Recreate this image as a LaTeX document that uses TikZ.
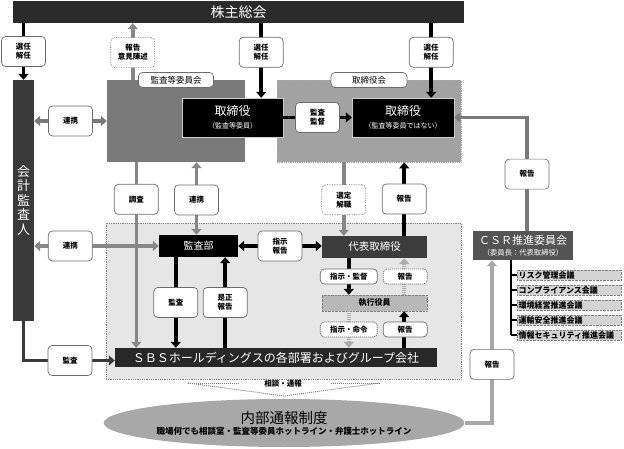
\documentclass[tikz,border=0pt]{standalone}
\usepackage{fontspec}
\setmainfont{Noto Sans CJK JP}
\usetikzlibrary{shapes,arrows.meta}

\definecolor{kabucol}{HTML}{2B2B2B}
\definecolor{kaikeicol}{HTML}{3A3A3A}
\definecolor{iinkaicol}{HTML}{7A7A7A}
\definecolor{torikaicol}{HTML}{A2A2A2}
\definecolor{groupcol}{HTML}{E6E6E6}
\definecolor{daihyocol}{HTML}{3C3C3C}
\definecolor{shikkocol}{HTML}{B8B8B8}
\definecolor{sbscol}{HTML}{282828}
\definecolor{csrcol}{HTML}{545454}
\definecolor{itemcol}{HTML}{D4D4D4}
\definecolor{naibucol}{HTML}{A8A8A8}
\definecolor{arrgray}{HTML}{878787}
\definecolor{lightarr}{HTML}{ABABAB}

\tikzset{
  box/.style={rectangle,inner sep=0pt,text=white},
  lbl/.style={draw=gray!85!black,fill=white,rounded corners=4pt,line width=0.7pt,
    minimum width=44pt,minimum height=30pt,inner sep=1pt,align=center,text=black,
    font=\bfseries\fontsize{7.5}{9}\selectfont},
  lbldot/.style={lbl,densely dotted},
  lblflat/.style={lbl,minimum height=15pt},
  tab/.style={lbl,minimum height=15pt,font=\fontsize{8.5}{10}\selectfont},
  tip/.style={-{Triangle[length=6pt,width=10pt]}},
  dbl/.style={{Triangle[length=6pt,width=10pt]}-{Triangle[length=6pt,width=10pt]}},
  blk/.style={draw=black,line width=3.5pt,tip},
  gry/.style={draw=arrgray,line width=3.5pt,tip},
  hatch/.style={draw=lightarr,line width=3.5pt,dash pattern=on 1.2pt off 0.8pt,tip},
  item/.style={draw=gray,densely dotted,fill=itemcol,inner sep=1pt,anchor=west,
    minimum width=104pt,minimum height=10pt,text width=101pt,align=left,
    font=\bfseries\fontsize{8}{9}\selectfont}
}

\begin{document}
\begin{tikzpicture}[x=1pt,y=-1pt]
  \useasboundingbox (0,0) rectangle (624,449);

  % main blocks
  \node[box,fill=kabucol,minimum width=451pt,minimum height=22pt,
    font=\fontsize{14}{16}\selectfont] (Kabu) at (238.5,12) {株主総会};
  \node[box,fill=kaikeicol,minimum width=21pt,minimum height=241pt,align=center,
    font=\fontsize{13}{14.5}\selectfont] (Kaikei) at (23.5,200.5) {会\\計\\監\\査\\人};
  \node[box,fill=iinkaicol,minimum width=138pt,minimum height=82pt] (Iinkai) at (176,121) {};
  \node[box,fill=torikaicol,draw=gray!70,densely dotted,line width=0.8pt,
    minimum width=184pt,minimum height=82pt] (Torikai) at (369,121) {};
  \node[tab,minimum width=75pt] (IinkaiTab) at (176,80) {監査等委員会};
  \node[tab,minimum width=76pt] (TorikaiTab) at (369,80) {取締役会};
  \node[box,fill=black,draw=gray!40,minimum width=101pt,minimum height=39pt,align=center,
    font=\fontsize{12}{14}\selectfont] (Tori1) at (232.5,117.5)
    {取締役\\[-1pt]{\fontsize{7}{8}\selectfont（監査等委員）}};
  \node[box,fill=black,draw=gray!40,minimum width=102pt,minimum height=39pt,align=center,
    font=\fontsize{12}{14}\selectfont] (Tori2) at (403,117.5)
    {取締役\\[-1pt]{\fontsize{7}{8}\selectfont（監査等委員ではない）}};

  % group area
  \node[draw=gray,densely dotted,line width=0.8pt,fill=groupcol,inner sep=0pt,
    minimum width=355pt,minimum height=156pt] (Group) at (283.5,301) {};
  \node[box,fill=black,minimum width=79pt,minimum height=22pt,
    font=\fontsize{10}{12}\selectfont] (Kansabu) at (198.5,246) {監査部};
  \node[box,fill=daihyocol,minimum width=105pt,minimum height=22pt,
    font=\fontsize{10.5}{12}\selectfont] (Daihyo) at (374.5,247) {代表取締役};
  \node[box,fill=shikkocol,draw=gray,densely dotted,minimum width=105pt,minimum height=16pt,
    text=black,font=\bfseries\fontsize{8}{9}\selectfont] (Shikko) at (374.5,303) {執行役員};
  \node[box,fill=sbscol,minimum width=322pt,minimum height=19pt,
    font=\fontsize{12}{14}\selectfont] (SBS) at (276,357.5)
    {ＳＢＳホールディングスの各部署およびグループ会社};

  % CSR
  \node[box,fill=csrcol,minimum width=100pt,minimum height=29pt,align=center,
    font=\fontsize{11}{12}\selectfont] (CSR) at (523,245.5)
    {ＣＳＲ推進委員会\\[-1pt]{\fontsize{7.3}{8}\selectfont（委員長：代表取締役）}};
  \coordinate (Trunk) at (511,260);
  \foreach \i/\t in {1/リスク管理会議,2/コンプライアンス会議,3/環境経営推進会議,
                     4/運輸安全推進会議,5/情報セキュリティ推進会議}
    \node[item] (Item\i) at (517,260+15*\i) {\t};
  \draw[line width=1.2pt] (Trunk) -- (Trunk |- Item5.west);
  \foreach \i in {1,...,5}
    \draw[line width=1.2pt] (Trunk |- Item\i.west) -- (Item\i.west);

  % whistleblowing
  \coordinate (FunL) at (188,383);
  \coordinate (FunR) at (380,383);
  \coordinate (FunTip) at (284,396);
  \draw[gray,densely dotted,line width=1pt] (FunL) -- ++(52,0);
  \draw[gray,densely dotted,line width=1pt] (FunR) -- ++(-50,0);
  \draw[gray,densely dotted,line width=1pt] (FunL) -- (FunTip) -- (FunR);
  \node[font=\bfseries\fontsize{7.5}{9}\selectfont] (Soudan) at (283,384) {相談・通報};
  \node[ellipse,fill=naibucol,minimum width=308pt,minimum height=48pt,inner sep=0pt,
    align=center] (Naibu) at (284,423)
    {{\fontsize{14.5}{16}\selectfont 内部通報制度}\\[-1pt]
     {\bfseries\fontsize{8.5}{10}\selectfont 職場何でも相談室・監査等委員ホットライン・弁護士ホットライン}};

  % connectors, top
  \draw[blk] (Kaikei.north |- Kabu.south) -- node[lbl]{選任\\解任} (Kaikei.north);
  \draw[gry] ([xshift=26pt]Iinkai.north west) -- node[lbldot,pos=0.48]{報告\\意見陳述}
    ([xshift=26pt]Iinkai.north west |- Kabu.south);
  \draw[blk] ([xshift=-22pt]Tori1.north east |- Kabu.south) -- node[lbl,pos=0.39]{選任\\解任}
    ([xshift=-22pt]Tori1.north east);
  \draw[blk] ([xshift=-23pt]Tori2.north east |- Kabu.south) -- node[lbl,pos=0.39]{選任\\解任}
    ([xshift=-23pt]Tori2.north east);
  \draw[gry,dbl,draw=iinkaicol] (Kaikei.east |- Iinkai.center) -- node[lbl]{連携} (Iinkai.west);
  \draw[blk] (Tori1.east) -- node[lbl]{監査\\監督} (Tori2.west);
  \draw[gry,draw=gray!95!black] ([xshift=4pt]CSR.north) |- node[lbl,pos=0.25]{報告} (Tori2.east);

  % connectors, middle
  \draw[gry] ([xshift=29.5pt]Iinkai.south west) -- node[lbl,pos=0.2]{調査}
    ([xshift=29.5pt]Iinkai.south west |- SBS.north);
  \draw[gry,dbl] ([xshift=-2pt]Kansabu.north |- Iinkai.south) -- node[lbl,pos=0.52]{連携}
    ([xshift=-2pt]Kansabu.north);
  \draw[gry,dbl] (Kaikei.east |- Kansabu.west) -- node[lbl,pos=0.29]{連携} (Kansabu.west);
  \draw[blk,dbl] (Kansabu.east) -- node[lbl]{指示\\報告} (Kansabu.east -| Daihyo.west);
  \draw[gry] ([xshift=22pt]Daihyo.north west |- Torikai.south) -- node[lbldot,pos=0.51]{選定\\解職}
    ([xshift=22pt]Daihyo.north west);
  \draw[blk] ([xshift=-23pt]Daihyo.north east) -- node[lbl]{報告}
    ([xshift=-23pt]Daihyo.north east |- Torikai.south);
  \draw[blk] ([xshift=27pt]Daihyo.south west) -- node[lblflat,minimum width=57pt]{指示・監督}
    ([xshift=27pt]Daihyo.south west |- Shikko.north);
  \draw[hatch] ([xshift=-23pt]Shikko.north east) -- node[lblflat,xshift=1pt]{報告}
    ([xshift=-23pt]Shikko.north east |- Daihyo.south);
  \draw[hatch] ([xshift=27pt]Shikko.south west) -- node[lblflat,minimum width=57pt]{指示・命令}
    ([xshift=27pt]Shikko.south west |- SBS.north);
  \draw[blk] ([xshift=-23pt]SBS.north -| Shikko.east) -- node[lblflat,xshift=1pt]{報告}
    ([xshift=-23pt]Shikko.south east);
  \draw[blk] ([xshift=17pt]Kansabu.south west) -- node[lbl]{監査}
    ([xshift=17pt]Kansabu.south west |- SBS.north);
  \draw[blk] ([xshift=-13pt]Kansabu.south east |- SBS.north) -- node[lbl]{是正\\報告}
    ([xshift=-13pt]Kansabu.south east);

  % connectors, bottom
  \draw[blk,draw=kaikeicol] (Kaikei.south) |- node[lbl,pos=0.755]{監査} ([yshift=-3pt]SBS.west);
  \draw[gry,draw=naibucol] (Naibu.east) -| node[lbl,pos=0.68]{報告} ([xshift=-31pt]CSR.south);
\end{tikzpicture}
\end{document}
